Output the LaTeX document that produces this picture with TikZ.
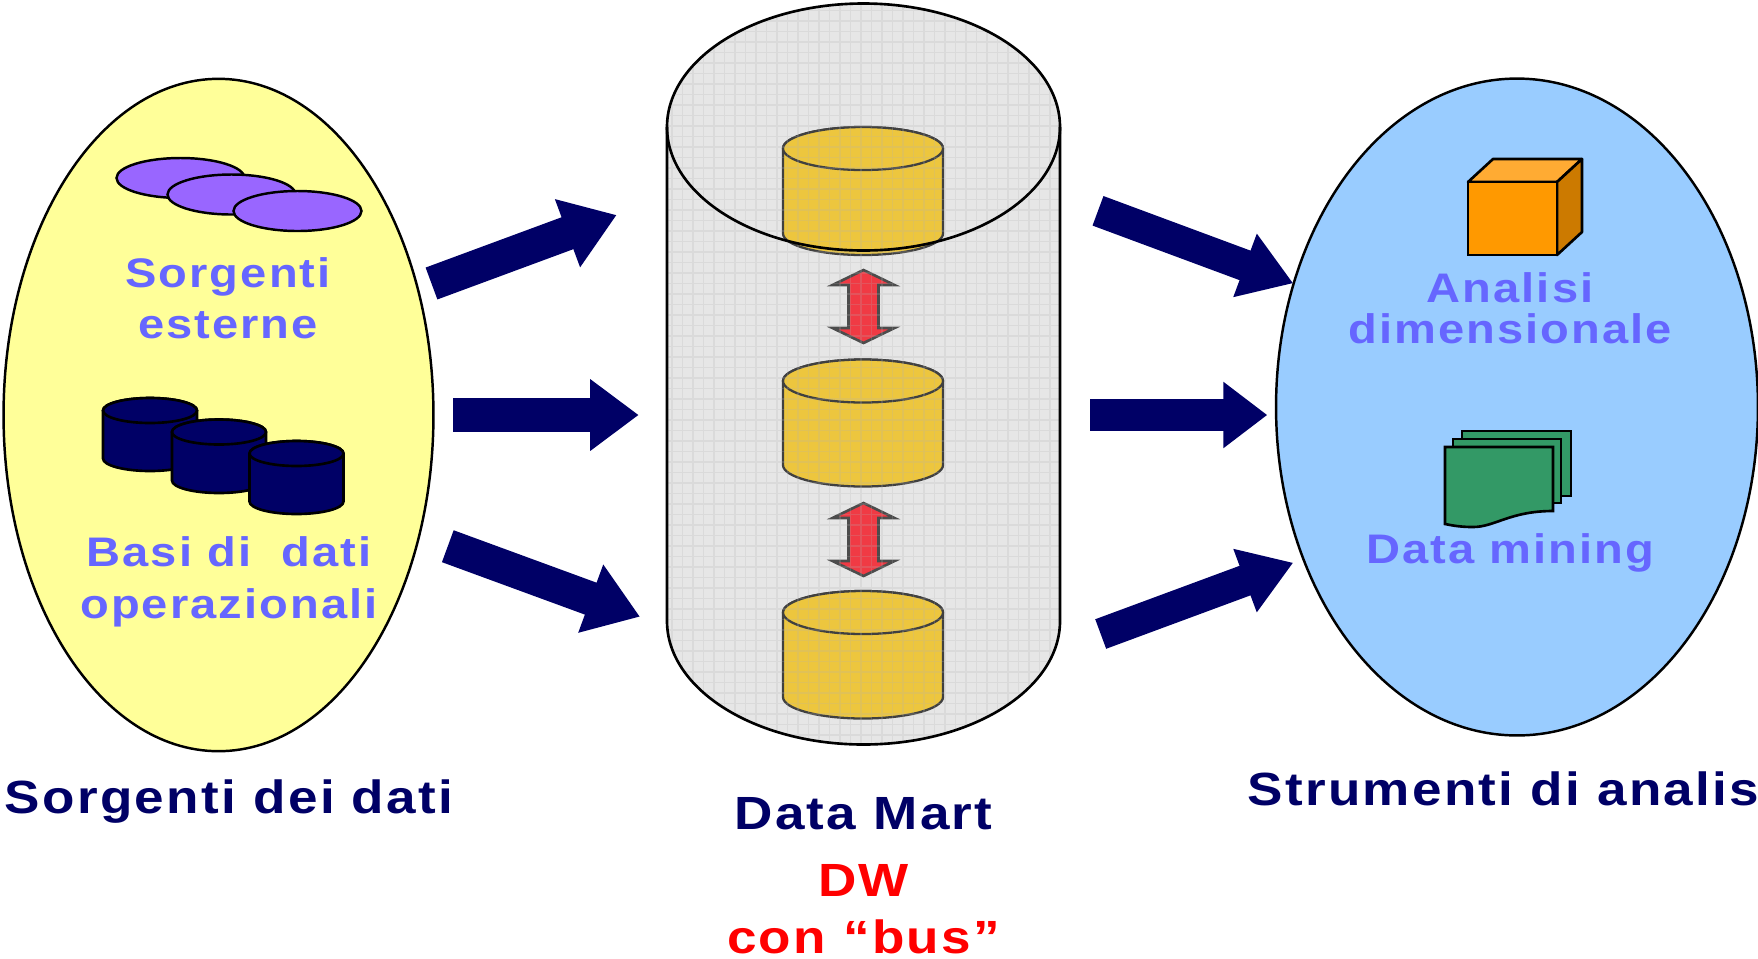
\documentclass[tikz,border=0pt]{standalone}
\usepackage{fontspec}
\setmainfont[FakeStretch=1.14,LetterSpace=5]{Liberation Sans}
\usepackage{tikz}
\usetikzlibrary{positioning}
\usetikzlibrary{shapes.geometric,arrows.meta}

\definecolor{navyblue}{HTML}{000066}
\definecolor{labelblue}{HTML}{6666FF}
\definecolor{lightyellow}{HTML}{FFFF99}
\definecolor{skyblue}{HTML}{99CCFF}
\definecolor{meshgray}{HTML}{E6E6E6}
\definecolor{martgold}{HTML}{EDC63E}
\definecolor{meshred}{HTML}{F03A44}
\definecolor{violet}{HTML}{9966FF}
\definecolor{cubefront}{HTML}{FF9900}
\definecolor{cubetop}{HTML}{FFAB33}
\definecolor{cubeside}{HTML}{CC7A00}
\definecolor{sheetgreen}{HTML}{339966}

\tikzset{
  blob/.style={draw,ellipse,line width=1.4pt,inner sep=0pt},
  flow/.style n args={3}{navyblue,line width=#1,-{Triangle[length=#2,width=#3]}},
  inlabel/.style={anchor=base,inner sep=0pt,text=labelblue,font=\bfseries\fontsize{23.5}{26}\selectfont},
  titlelabel/.style={anchor=base,inner sep=0pt,text=navyblue,font=\bfseries\fontsize{26.5}{30}\selectfont},
  redlabel/.style={titlelabel,text=red},
  swapline/.style={draw=black!70,line width=1.5pt,fill=meshred,line join=miter},
}

% cx, top centre y, rx, ry, height, options
\newcommand{\drum}[6]{
  \path[#6] (#1-#3,#2) -- (#1-#3,#2-#5) arc (180:360:#3 and #4) -- (#1+#3,#2)
    arc (0:180:#3 and #4) -- cycle;
  \path[#6] (#1,#2) ellipse (#3 and #4);
}
% cx, top y
\newcommand{\swaparrow}[2]{
  \path[swapline] (#1,#2-2) -- (#1+31,#2-17) -- (#1+15,#2-17) -- (#1+15,#2-60) -- (#1+31,#2-60)
    -- (#1,#2-75) -- (#1-31,#2-60) -- (#1-15,#2-60) -- (#1-15,#2-17) -- (#1-31,#2-17) -- cycle;
}

\begin{document}
\begin{tikzpicture}[x=.02cm,y=.02cm,>=Triangle]
    \useasboundingbox (0,0) rectangle (1758,-958);

    % the three big shapes
    \node (source) [blob,fill=lightyellow,minimum width=8.6cm,minimum height=13.45cm] at (218.5,-415) {};
    \node (tools) [blob,fill=skyblue,minimum width=9.64cm,minimum height=13.14cm] at (1517,-407) {};

    \path[fill=meshgray] (667,-127) -- (667,-621) arc (180:360:196.5 and 123.5) -- (1060,-127)
      arc (0:180:196.5 and 123.5) -- cycle;
    \drum{863}{-148.5}{80}{21.5}{85}{draw=black!75,line width=1.3pt,fill=martgold}
    \drum{863}{-381}{80}{21.5}{84}{draw=black!75,line width=1.3pt,fill=martgold}
    \drum{863}{-612.5}{80}{21.5}{84.5}{draw=black!75,line width=1.3pt,fill=martgold}
    \swaparrow{863.5}{-268}
    \swaparrow{863.5}{-501}
    \begin{scope}
      \clip (667,-127) -- (667,-621) arc (180:360:196.5 and 123.5) -- (1060,-127)
        arc (0:180:196.5 and 123.5) -- cycle;
      \draw[black!30,opacity=.22,line width=.8pt] (660,-760) grid[step=10.5] (1070,0);
    \end{scope}
    \draw[line width=1.5pt] (667,-127) -- (667,-621) arc (180:360:196.5 and 123.5) -- (1060,-127);
    \draw[line width=1.5pt] (863.5,-127) ellipse (196.5 and 123.5);

    % external sources
    \node (extA) [blob,fill=violet,minimum width=2.56cm,minimum height=.8cm] at (180.5,-178) {};
    \node (extB) [blob,fill=violet,minimum width=2.56cm,minimum height=.8cm] at (231.5,-194.5) {};
    \node (extC) [blob,fill=violet,minimum width=2.56cm,minimum height=.8cm] at (297.5,-211) {};
    \node (extlabel) [inlabel] at (228,-287) {Sorgenti};
    \node (extlabelb) [inlabel] at (228,-338) {esterne};

    % operational databases
    \drum{150}{-410.5}{47}{12.5}{48}{draw=black,line width=1.5pt,fill=navyblue}
    \drum{219}{-432}{47}{12.5}{48.5}{draw=black,line width=1.5pt,fill=navyblue}
    \drum{296.5}{-453.5}{47}{12.5}{48}{draw=black,line width=1.5pt,fill=navyblue}
    \node (oplabel) [inlabel] at (229,-566) {Basi di\ \ dati};
    \node (oplabelb) [inlabel] at (229,-618) {operazionali};

    % cube
    \draw[line width=1.5pt,line join=round,fill=cubetop] (1468,-182) -- (1493,-159) -- (1582,-159) -- (1557,-182) -- cycle;
    \draw[line width=1.5pt,line join=round,fill=cubeside] (1557,-182) -- (1582,-159) -- (1582,-232) -- (1557,-255) -- cycle;
    \draw[line width=1.5pt,fill=cubefront] (1468,-182) rectangle (1557,-255);
    \node (cubelabel) [inlabel] at (1510,-302) {Analisi};
    \node (cubelabelb) [inlabel] at (1510,-343) {dimensionale};

    % sheets
    \draw[line width=1.5pt,fill=sheetgreen] (1462,-431) rectangle (1571,-496);
    \draw[line width=1.5pt,fill=sheetgreen] (1453,-439) rectangle (1561,-503);
    \draw[line width=1.5pt,fill=sheetgreen] (1445,-447) -- (1553,-447) -- (1553,-511)
      .. controls (1510,-511) and (1495,-527) .. (1473,-527)
      .. controls (1462,-527) and (1455,-526) .. (1445,-524) -- cycle;
    \node (sheetlabel) [inlabel] at (1510,-563) {Data mining};

    % flows
    \coordinate (f1a) at (431.5,-283.5);
    \coordinate (f1b) at (616.7,-215);
    \coordinate (f2a) at (453.3,-415);
    \coordinate (f2b) at (638.7,-415);
    \coordinate (f3a) at (447.8,-546.2);
    \coordinate (f3b) at (640,-616.7);
    \coordinate (f4a) at (1098,-210.8);
    \coordinate (f4b) at (1293.3,-283.3);
    \coordinate (f5a) at (1090,-415);
    \coordinate (f5b) at (1267.3,-415);
    \coordinate (f6a) at (1100.7,-634);
    \coordinate (f6b) at (1293.3,-562.7);
    \draw [flow={.68cm}{1.05cm}{1.38cm}] (f1a) -- (f1b);
    \draw [flow={.69cm}{.97cm}{1.37cm}] (f2a) -- (f2b);
    \draw [flow={.68cm}{1.05cm}{1.38cm}] (f3a) -- (f3b);
    \draw [flow={.63cm}{1.03cm}{1.28cm}] (f4a) -- (f4b);
    \draw [flow={.64cm}{.88cm}{1.27cm}] (f5a) -- (f5b);
    \draw [flow={.63cm}{1.03cm}{1.28cm}] (f6a) -- (f6b);

    % titles
    \node (sourcetitle) [titlelabel] at (229,-813) {Sorgenti dei dati};
    \node (marttitle) [titlelabel] at (863.5,-829) {Data Mart};
    \node (dwtitle) [redlabel] at (863.5,-896) {DW};
    \node (bustitle) [redlabel] at (863.5,-953) {con “bus”};
    \node (toolstitle) [titlelabel,anchor=base west] at (1247,-805) {Strumenti di analis};
\end{tikzpicture}
\end{document}
